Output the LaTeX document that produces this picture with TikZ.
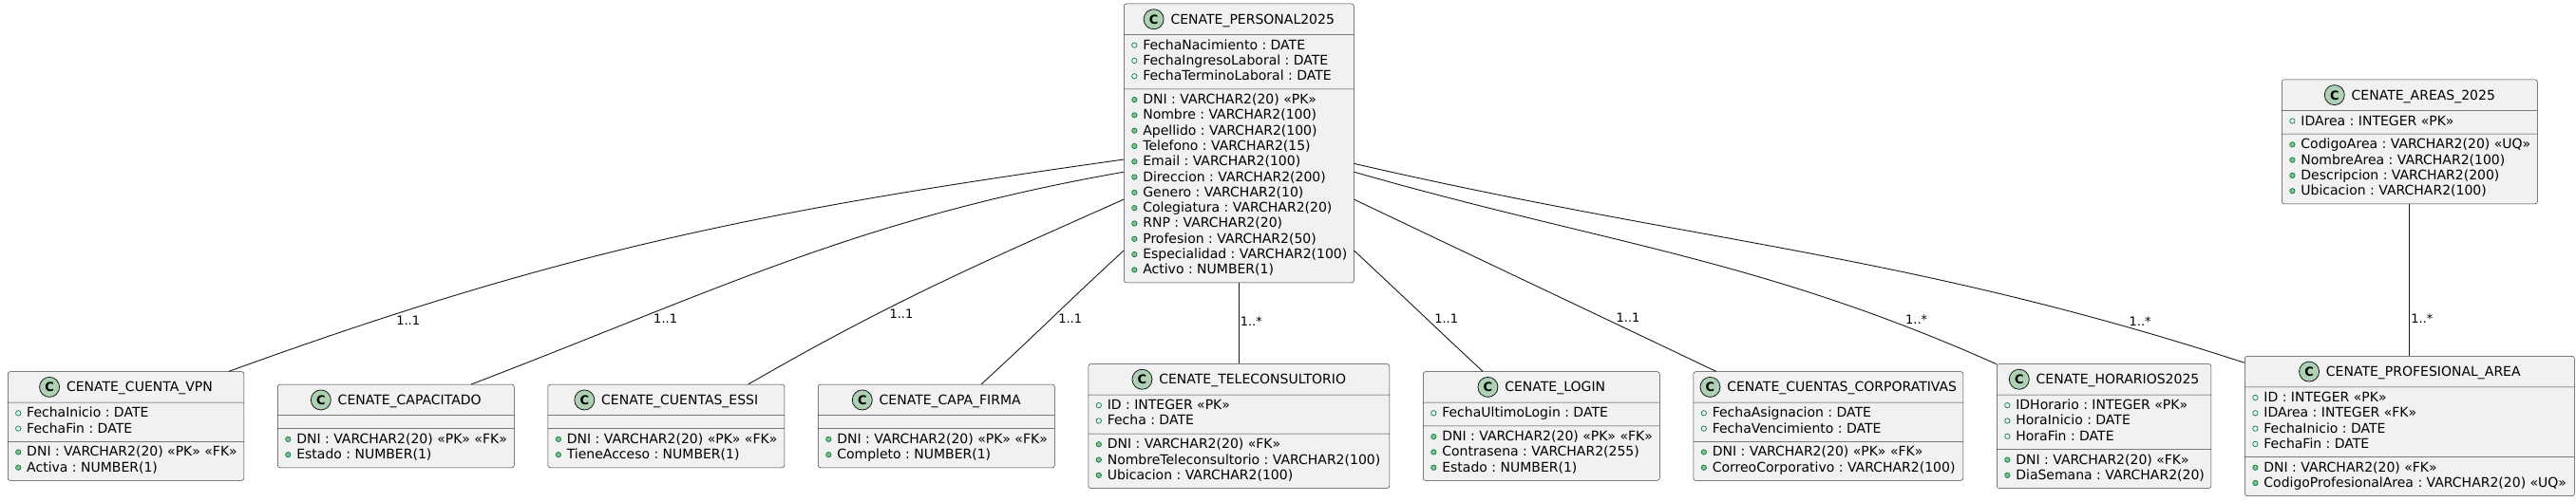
\documentclass[tikz,border=0pt]{standalone}
\usepackage{fontspec}
\setmainfont{DejaVu Sans}
\frenchspacing
\usetikzlibrary{positioning,shapes.multipart}

\definecolor{boxfill}{HTML}{F1F1F1}
\definecolor{boxline}{HTML}{181818}
\definecolor{iconfill}{HTML}{ADD1B2}
\definecolor{attrline}{HTML}{038048}
\definecolor{opfill}{HTML}{84BE84}

% class header: round icon with C, then the table name
\newcommand{\hdr}[1]{\rule[-7pt]{0pt}{24pt}\makebox[1pt]{%
  \tikz[baseline={(0pt,-5pt)}]\draw[boxline, fill=iconfill, line width=0.8pt] (0pt,0pt) circle (10.5pt);%
  \hspace{-21.8pt}\makebox[21.8pt]{\fontsize{13}{13}\selectfont\bfseries C}%
  \hspace{7pt}#1}}
% markers: open circle for fields, filled circle for the rest
\newcommand{\fo}{\tikz[baseline={(0pt,-4.5pt)}]{\useasboundingbox (0pt,-3pt) rectangle (13pt,3pt);
  \draw[attrline, line width=0.7pt] (4pt,0pt) circle (2.7pt);}}
\newcommand{\mo}{\tikz[baseline={(0pt,-4.5pt)}]{\useasboundingbox (0pt,-3pt) rectangle (13pt,3pt);
  \draw[attrline, fill=opfill, line width=0.7pt] (4pt,0pt) circle (2.7pt);}}
\newcommand{\rows}[1]{{\fontsize{14}{16.3}\selectfont\frenchspacing\begin{tabular}{@{}l@{}}#1\end{tabular}}}

\begin{document}
\begin{tikzpicture}[x=1pt, y=1pt,
    tbl/.style={rectangle split, rectangle split parts=3,
      rectangle split part align={center,left,left},
      rectangle split empty part height=0pt, rectangle split empty part depth=0pt,
      draw=boxline!85, fill=boxfill, line width=0.5pt, rounded corners=2.5pt,
      inner xsep=7pt, inner ysep=4pt, font=\fontsize{14}{16.3}\selectfont},
    lnk/.style={draw=boxline, line width=0.9pt},
    card/.style={font=\fontsize{13}{15}\selectfont, inner sep=1pt}]
  \useasboundingbox (0,0) rectangle (2712,528);

  % bottom row
  \node[tbl, minimum width=248pt, anchor=west] (vpn) at (8,79) {\hdr{CENATE\_CUENTA\_VPN}
    \nodepart{two}\rows{\fo FechaInicio : DATE\\ \fo FechaFin : DATE}
    \nodepart{three}\rows{\mo DNI : VARCHAR2(20) «PK» «FK»\\ \mo Activa : NUMBER(1)}};
  \node[tbl, minimum width=249pt, right=35pt of vpn] (capac) {\hdr{CENATE\_CAPACITADO}
    \nodepart{two}
    \nodepart{three}\rows{\mo DNI : VARCHAR2(20) «PK» «FK»\\ \mo Estado : NUMBER(1)}};
  \node[tbl, minimum width=249pt, right=35pt of capac] (essi) {\hdr{CENATE\_CUENTAS\_ESSI}
    \nodepart{two}
    \nodepart{three}\rows{\mo DNI : VARCHAR2(20) «PK» «FK»\\ \mo TieneAcceso : NUMBER(1)}};
  \node[tbl, minimum width=249pt, right=35pt of essi] (firma) {\hdr{CENATE\_CAPA\_FIRMA}
    \nodepart{two}
    \nodepart{three}\rows{\mo DNI : VARCHAR2(20) «PK» «FK»\\ \mo Completo : NUMBER(1)}};
  \node[tbl, minimum width=317pt, right=35pt of firma] (tele) {\hdr{CENATE\_TELECONSULTORIO}
    \nodepart{two}\rows{\fo ID : INTEGER «PK»\\ \fo Fecha : DATE}
    \nodepart{three}\rows{\mo DNI : VARCHAR2(20) «FK»\\ \mo NombreTeleconsultorio : VARCHAR2(100)\\ \mo Ubicacion : VARCHAR2(100)}};
  \node[tbl, minimum width=249pt, right=35pt of tele] (login) {\hdr{CENATE\_LOGIN}
    \nodepart{two}\rows{\fo FechaUltimoLogin : DATE}
    \nodepart{three}\rows{\mo DNI : VARCHAR2(20) «PK» «FK»\\ \mo Contrasena : VARCHAR2(255)\\ \mo Estado : NUMBER(1)}};
  \node[tbl, minimum width=284pt, right=35pt of login] (corp) {\hdr{CENATE\_CUENTAS\_CORPORATIVAS}
    \nodepart{two}\rows{\fo FechaAsignacion : DATE\\ \fo FechaVencimiento : DATE}
    \nodepart{three}\rows{\mo DNI : VARCHAR2(20) «PK» «FK»\\ \mo CorreoCorporativo : VARCHAR2(100)}};
  \node[tbl, minimum width=225pt, right=35pt of corp] (hor) {\hdr{CENATE\_HORARIOS2025}
    \nodepart{two}\rows{\fo IDHorario : INTEGER «PK»\\ \fo HoraInicio : DATE\\ \fo HoraFin : DATE}
    \nodepart{three}\rows{\mo DNI : VARCHAR2(20) «FK»\\ \mo DiaSemana : VARCHAR2(20)}};
  \node[tbl, minimum width=347pt, right=35pt of hor] (prof) {\hdr{CENATE\_PROFESIONAL\_AREA}
    \nodepart{two}\rows{\fo ID : INTEGER «PK»\\ \fo IDArea : INTEGER «FK»\\ \fo FechaInicio : DATE\\ \fo FechaFin : DATE}
    \nodepart{three}\rows{\mo DNI : VARCHAR2(20) «FK»\\ \mo CodigoProfesionalArea : VARCHAR2(20) «UQ»}};

  % top row
  \node[tbl, minimum width=241pt, above=85pt of tele] (per) {\hdr{CENATE\_PERSONAL2025}
    \nodepart{two}\rows{\fo FechaNacimiento : DATE\\ \fo FechaIngresoLaboral : DATE\\ \fo FechaTerminoLaboral : DATE}
    \nodepart{three}\rows{\mo DNI : VARCHAR2(20) «PK»\\ \mo Nombre : VARCHAR2(100)\\ \mo Apellido : VARCHAR2(100)\\
      \mo Telefono : VARCHAR2(15)\\ \mo Email : VARCHAR2(100)\\ \mo Direccion : VARCHAR2(200)\\ \mo Genero : VARCHAR2(10)\\
      \mo Colegiatura : VARCHAR2(20)\\ \mo RNP : VARCHAR2(20)\\ \mo Profesion : VARCHAR2(50)\\
      \mo Especialidad : VARCHAR2(100)\\ \mo Activo : NUMBER(1)}};
  \node[tbl, minimum width=269pt, above=160pt of prof] (areas) {\hdr{CENATE\_AREAS\_2025}
    \nodepart{two}\rows{\fo IDArea : INTEGER «PK»}
    \nodepart{three}\rows{\mo CodigoArea : VARCHAR2(20) «UQ»\\ \mo NombreArea : VARCHAR2(100)\\ \mo Descripcion : VARCHAR2(200)\\ \mo Ubicacion : VARCHAR2(100)}};

  % links
  \path[lnk] (per.188.5) edge[out=188, in=20] node[card, pos=.825, anchor=north west] {1..1} (vpn.28.8);
  \path[lnk] (per.194) edge[out=190, in=21] node[card, pos=.733, anchor=north west] {1..1} (capac.29.2);
  \path[lnk] (per.206.1) edge[out=204, in=30] node[card, pos=.63, anchor=north west] {1..1} (essi.27);
  \path[lnk] (per.223.4) edge[out=222.5, in=42.5] node[card, pos=.465, anchor=north west] {1..1} (firma.43.3);
  \path[lnk] (per) edge node[card, pos=.47, anchor=west] {1..*} (tele);
  \path[lnk] (per.317.1) edge[out=-43, in=137] node[card, pos=.625, anchor=south west] {1..1} (login.137.2);
  \path[lnk] (per.334.3) edge[out=-25.5, in=154.5] node[card, pos=.736, anchor=south west] {1..1} (corp.154.6);
  \path[lnk] (per.346.9) edge[out=-16, in=156] node[card, pos=.865, anchor=south west] {1..*} (hor.150.4);
  \path[lnk] (per.350.1) edge[out=-13, in=162] node[card, pos=.88, anchor=south west] {1..*} (prof.159.2);
  \path[lnk] (areas) edge node[card, pos=.756, anchor=west] {1..*} (prof);
\end{tikzpicture}
\end{document}
